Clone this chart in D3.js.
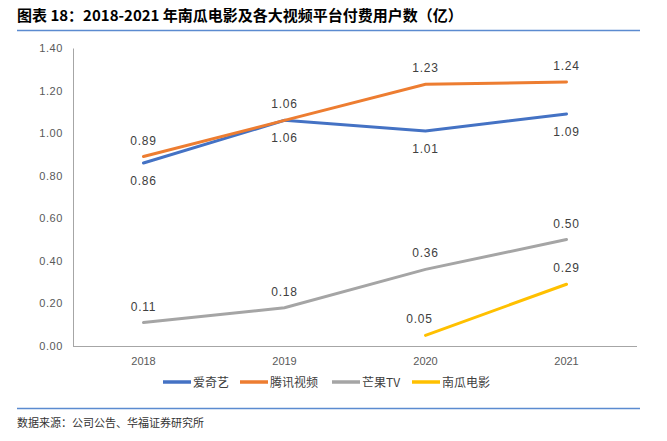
<!DOCTYPE html>
<html>
<head>
<meta charset="utf-8">
<script src="https://cdn.jsdelivr.net/npm/d3@7"></script>
<style>
  body { margin: 0; background: #fff; }
</style>
</head>
<body>
<div class="canvas"></div>
<script>
const years = ['2018', '2019', '2020', '2021']
const iqiyi = [0.86, 1.06, 1.01, 1.09]
const tencent = [0.89, 1.06, 1.23, 1.24]
const mango = [0.11, 0.18, 0.36, 0.50]
const nangua = [null, null, 0.05, 0.29]
const yTicks = [0, 0.2, 0.4, 0.6, 0.8, 1.0, 1.2, 1.4]

const series = [
  {name: '爱奇艺', values: iqiyi, color: '#4472c4', pos: 'below'},
  {name: '腾讯视频', values: tencent, color: '#ed7d31', pos: 'above'},
  {name: '芒果TV', values: mango, color: '#a5a5a5', pos: 'above'},
  {name: '南瓜电影', values: nangua, color: '#ffc000', pos: 'above'}
]

const cjk = '"Noto Sans CJK SC", "Noto Sans", sans-serif'
const latin = '"Liberation Sans", Arial, sans-serif'

const W = 667, H = 441
const svg = d3.select('.canvas').append('svg').attr('width', W).attr('height', H)

// title + rules
svg.append('text').attr('x', 17).attr('y', 21)
  .style('font-family', cjk).style('font-size', '15px').style('font-weight', 'bold').attr('fill', '#000')
  .text('图表 18：2018-2021 年南瓜电影及各大视频平台付费用户数（亿）')
svg.append('line').attr('x1', 17).attr('x2', 640).attr('y1', 30.5).attr('y2', 30.5)
  .attr('stroke', '#5b8bd0').attr('stroke-width', 1.5)
svg.append('line').attr('x1', 17).attr('x2', 640).attr('y1', 408.5).attr('y2', 408.5)
  .attr('stroke', '#5b8bd0').attr('stroke-width', 1.5)
svg.append('text').attr('x', 17).attr('y', 427)
  .style('font-family', cjk).style('font-size', '11px').attr('fill', '#333')
  .text('数据来源：公司公告、华福证券研究所')

const margin = {top: 48, left: 73, right: 30}
const plotBottom = 346

const x = d3.scaleBand().domain(years).range([margin.left, W - margin.right])
const cx = d => x(d) + x.bandwidth() / 2
const y = d3.scaleLinear().domain([0, 1.4]).range([plotBottom, margin.top])

const yAxis = d3.axisLeft(y).tickValues(yTicks).tickSize(0).tickPadding(10)
  .tickFormat(d3.format('.2f'))
const yG = svg.append('g').attr('transform', `translate(${margin.left},0)`).call(yAxis)
yG.select('.domain').attr('stroke', '#a6a6a6')
yG.selectAll('text').style('font-size', '11px').style('font-family', latin)
  .style('letter-spacing', '0.6px').attr('fill', '#595959')

const xAxis = d3.axisBottom(x).tickSize(0).tickPadding(11)
const xG = svg.append('g').attr('transform', `translate(0,${plotBottom})`).call(xAxis)
xG.select('.domain').attr('stroke', '#a6a6a6').attr('d', `M${margin.left},0.5H${W - margin.right}`)
xG.selectAll('text').style('font-size', '11px').style('font-family', latin).attr('fill', '#595959')

const line = d3.line()
  .defined(d => d.v != null)
  .x(d => cx(d.year))
  .y(d => y(d.v))

series.forEach(s => {
  const pts = years.map((yr, i) => ({year: yr, v: s.values[i]}))
  svg.append('path').datum(pts)
    .attr('d', line)
    .attr('fill', 'none')
    .attr('stroke', s.color)
    .attr('stroke-width', 3)
    .attr('stroke-linecap', 'round')

  svg.selectAll(null).data(pts.filter(d => d.v != null)).enter()
    .append('text')
    .attr('x', d => cx(d.year) + (s.name === '南瓜电影' && d.year === '2020' ? -6 : 0))
    .attr('y', d => s.pos === 'above' ? y(d.v) - 12 : y(d.v) + 22)
    .attr('text-anchor', 'middle')
    .style('font-size', '12px')
    .style('font-family', latin)
    .style('letter-spacing', '0.8px')
    .attr('fill', '#404040')
    .text(d => d3.format('.2f')(d.v))
})

// legend
const legendX = [163, 240, 332, 412]
const legend = svg.selectAll('.lg').data(series).enter().append('g')
  .attr('transform', (d, i) => `translate(${legendX[i]},382)`)
legend.append('line').attr('x1', 0).attr('x2', 28).attr('y1', 0).attr('y2', 0)
  .attr('stroke', d => d.color).attr('stroke-width', 3.5)
legend.append('text').attr('x', 30).attr('y', 4.5)
  .style('font-size', '12px').style('font-family', cjk).attr('fill', '#404040')
  .text(d => d.name)
</script>
</body>
</html>
